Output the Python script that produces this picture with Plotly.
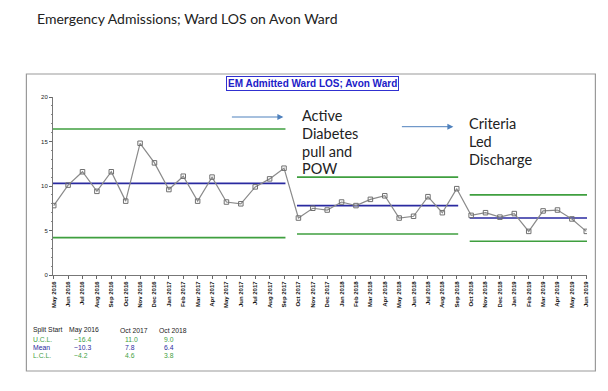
import plotly.graph_objects as go

months = ["May 2016", "Jun 2016", "Jul 2016", "Aug 2016", "Sep 2016", "Oct 2016", "Nov 2016", "Dec 2016",
          "Jan 2017", "Feb 2017", "Mar 2017", "Apr 2017", "May 2017", "Jun 2017", "Jul 2017", "Aug 2017",
          "Sep 2017", "Oct 2017", "Nov 2017", "Dec 2017", "Jan 2018", "Feb 2018", "Mar 2018", "Apr 2018",
          "May 2018", "Jun 2018", "Jul 2018", "Aug 2018", "Sep 2018", "Oct 2018", "Nov 2018", "Dec 2018",
          "Jan 2019", "Feb 2019", "Mar 2019", "Apr 2019", "May 2019", "Jun 2019"]
los = [7.8, 10.1, 11.6, 9.4, 11.6, 8.3, 14.8, 12.6, 9.6, 11.1, 8.3, 11.0, 8.2, 8.0, 9.9, 10.8, 12.0,
       6.4, 7.5, 7.3, 8.2, 7.8, 8.5, 8.9, 6.4, 6.6, 8.8, 7.0, 9.7,
       6.7, 7.0, 6.5, 6.9, 4.9, 7.2, 7.3, 6.3, 4.9]

split_start = ["May 2016", "Oct 2017", "Oct 2018"]
split_end = ["Sep 2017", "Sep 2018", "Jun 2019"]
ucl = [16.4, 11.0, 9.0]
mean = [10.3, 7.8, 6.4]
lcl = [4.2, 4.6, 3.8]
ucl_text = ["~16.4", "11.0", "9.0"]
mean_text = ["~10.3", "7.8", "6.4"]
lcl_text = ["~4.2", "4.6", "3.8"]

GREEN = "#3f9f3f"
BLUE = "#2a2aa0"
ARROW = "#4f81bd"

x_idx = list(range(len(months)))

fig = go.Figure()
for i in range(len(split_start)):
    s = months.index(split_start[i])
    e = months.index(split_end[i])
    for val, col in ((ucl[i], GREEN), (lcl[i], GREEN), (mean[i], BLUE)):
        fig.add_trace(go.Scatter(x=[s - 0.1, e + 0.1], y=[val, val], mode="lines",
                                 line=dict(color=col, width=1.6), hoverinfo="skip", showlegend=False))

fig.add_trace(go.Scatter(x=x_idx, y=los, mode="lines+markers",
                         line=dict(color="#8a8a8a", width=1.2),
                         marker=dict(symbol="square-open", size=4.5, color="#707070", line=dict(width=1)),
                         showlegend=False))

# page body has an 8px margin: figure is 8px smaller, coordinates below are in page pixels
OFF = 8
L, W, T, H = 52.6, 534.0, 97.0, 178.0
FW, FH = 608 - OFF, 391 - OFF
def px(xp):
    return (xp - L) / W
def py(yp):
    return (T + H - yp) / H

# outer frame
fig.add_shape(type="rect", xref="paper", yref="paper", x0=px(26), x1=px(595), y0=py(371), y1=py(74),
              line=dict(color="#9a9a9a", width=1.2), layer="above")

ann = []
ann.append(dict(text="Emergency Admissions; Ward LOS on Avon Ward", xref="paper", yref="paper",
                x=px(36), y=py(OFF + 0.5), xanchor="left", yanchor="top", showarrow=False, borderpad=0,
                font=dict(family="Lato, Open Sans, sans-serif", size=14, color="#222")))
ann.append(dict(text="<b>EM Admitted Ward LOS; Avon Ward</b>", xref="paper", yref="paper",
                x=px(312), y=py(84), xanchor="center", yanchor="middle", showarrow=False,
                bordercolor="#3030d0", borderwidth=1, borderpad=1, bgcolor="white",
                font=dict(family="Liberation Sans, Arial, sans-serif", size=10, color="#2020c8")))

for txt, yp in (("Active", 115), ("Diabetes", 133.3), ("pull and", 151), ("POW", 168.5)):
    ann.append(dict(text=txt, xref="paper", yref="paper", x=px(300), y=py(yp), xanchor="left",
                    yanchor="middle", showarrow=False,
                    font=dict(family="Lato, Open Sans, sans-serif", size=14.5, color="#222")))
for txt, yp in (("Criteria", 123.3), ("Led", 141.7), ("Discharge", 159.3)):
    ann.append(dict(text=txt, xref="paper", yref="paper", x=px(467), y=py(yp), xanchor="left",
                    yanchor="middle", showarrow=False,
                    font=dict(family="Lato, Open Sans, sans-serif", size=14.5, color="#222")))

for (x0, x1, yp) in ((230, 283, 117), (400, 453, 126.7)):
    ann.append(dict(text="", xref="paper", yref="paper", x=px(x1), y=py(yp),
                    axref="pixel", ayref="pixel", ax=x0 - x1, ay=0, showarrow=True,
                    arrowhead=2, arrowsize=1.2, arrowwidth=1, arrowcolor=ARROW))

# split table
tfont = "Liberation Sans, Arial, sans-serif"
col_x = [67, 118, 157]
rows = [("Split Start", split_start, "#222", 330),
        ("U.C.L.", ucl_text, GREEN, 339),
        ("Mean", mean_text, BLUE, 347.3),
        ("L.C.L.", lcl_text, GREEN, 355.5)]
for label, vals, col, yp in rows:
    ann.append(dict(text=label, xref="paper", yref="paper", x=px(31), y=py(yp), xanchor="left",
                    yanchor="middle", showarrow=False, font=dict(family=tfont, size=6.8, color=col)))
    for j, v in enumerate(vals):
        xx = col_x[j] + (0 if label == "Split Start" else 5)
        ann.append(dict(text=v, xref="paper", yref="paper", x=px(xx), y=py(yp), xanchor="left",
                        yanchor="middle", showarrow=False, font=dict(family=tfont, size=6.8, color=col)))

fig.update_layout(
    width=FW, height=FH,
    margin=dict(l=L - OFF, r=FW - (L - OFF) - W, t=T - OFF, b=FH - (T - OFF) - H, pad=0),
    plot_bgcolor="white", paper_bgcolor="white",
    showlegend=False,
    annotations=ann,
    xaxis=dict(range=[-0.05, 37.05], tickmode="array", tickvals=x_idx, ticktext=months,
               tickangle=-90, ticks="outside", ticklen=3, tickcolor="#666",
               tickfont=dict(family="Liberation Sans, Arial, sans-serif", size=6, color="#111", weight="bold"),
               showline=True, linecolor="#777", linewidth=1, showgrid=False, zeroline=False),
    yaxis=dict(range=[0, 20], tickvals=[0, 5, 10, 15, 20], ticks="outside", ticklen=3, tickcolor="#666",
               minor=dict(dtick=1, ticks="outside", ticklen=1.5, tickcolor="#888"),
               tickfont=dict(family="Liberation Sans, Arial, sans-serif", size=6, color="#222"),
               showline=True, linecolor="#777", linewidth=1, showgrid=False, zeroline=False),
)

fig.write_html("out.html")
